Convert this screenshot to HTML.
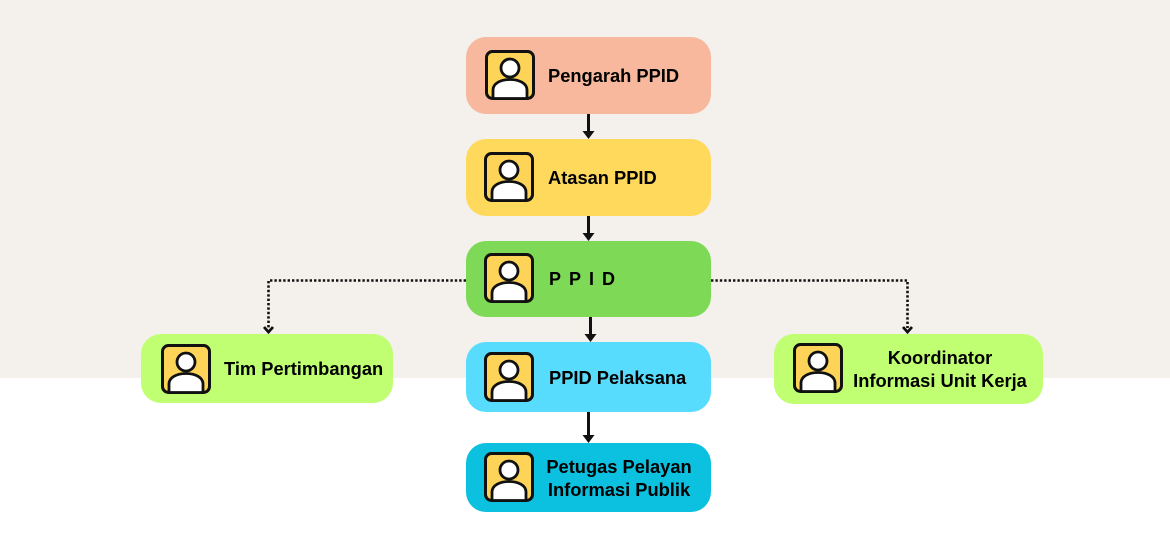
<!DOCTYPE html>
<html><head><meta charset="utf-8"><style>
html,body{margin:0;padding:0}
body{width:1170px;height:550px;position:relative;overflow:hidden;background:#fff;font-family:"Liberation Sans",sans-serif}
.bg{position:absolute;left:0;top:0;width:1170px;height:378px;background:#F4F1EC}
.box{position:absolute;border-radius:20px}
.t{position:absolute;font-weight:bold;font-size:18px;color:#000;white-space:nowrap;line-height:23px}
.c{text-align:center}
svg.lines{position:absolute;left:0;top:0}
</style></head><body>
<div class="bg"></div>

<div class="box" style="left:466px;top:37px;width:245px;height:77px;background:#F7B89D"></div>
<div class="box" style="left:466px;top:139px;width:245px;height:77px;background:#FED95C"></div>
<div class="box" style="left:466px;top:241px;width:245px;height:76px;background:#7ED957"></div>
<div class="box" style="left:466px;top:342px;width:245px;height:70px;background:#58DCFE"></div>
<div class="box" style="left:466px;top:443px;width:245px;height:69px;background:#0CC0DF"></div>
<div class="box" style="left:141px;top:334px;width:252px;height:69px;background:#C1FF72"></div>
<div class="box" style="left:774px;top:334px;width:269px;height:70px;background:#C1FF72"></div>

<svg class="lines" width="1170" height="550" viewBox="0 0 1170 550">
  <defs>
    <g id="person">
      <rect x="1.5" y="1.5" width="47" height="47" rx="6" fill="#FDD458" stroke="#111" stroke-width="3"/>
      <path d="M8,48.5 L8,40 C8,33.5 15.5,29.5 25,29.5 C34.5,29.5 42,33.5 42,40 L42,48.5 Z" fill="#fff" stroke="#111" stroke-width="2.8" stroke-linejoin="round"/>
      <circle cx="25" cy="18" r="9" fill="#fff" stroke="#111" stroke-width="2.8"/>
    </g>
  </defs>
  <use href="#person" x="485" y="50"/>
  <use href="#person" x="484" y="152"/>
  <use href="#person" x="484" y="253"/>
  <use href="#person" x="484" y="352"/>
  <use href="#person" x="484" y="452"/>
  <use href="#person" x="161" y="344"/>
  <use href="#person" x="793" y="343"/>

  <g stroke="#111" stroke-width="3" fill="none">
    <line x1="588.5" y1="114" x2="588.5" y2="132"/>
    <line x1="588.5" y1="216" x2="588.5" y2="234"/>
    <line x1="590.5" y1="317" x2="590.5" y2="335"/>
    <line x1="588.5" y1="412" x2="588.5" y2="436"/>
  </g>
  <g fill="#111">
    <polygon points="582.5,131 594.5,131 588.5,139"/>
    <polygon points="582.5,233 594.5,233 588.5,241"/>
    <polygon points="584.5,334 596.5,334 590.5,342"/>
    <polygon points="582.5,435 594.5,435 588.5,443"/>
  </g>
  <g stroke="#111" stroke-width="2.6" fill="none" stroke-dasharray="2.4 2">
    <polyline points="466,280.5 268.5,280.5 268.5,328"/>
    <polyline points="711,280.5 907.5,280.5 907.5,328"/>
  </g>
  <g stroke="#111" stroke-width="2.8" fill="none">
    <polyline points="264,327 268.5,332 273,327"/>
    <polyline points="903,327 907.5,332 912,327"/>
  </g>
</svg>

<div class="t" style="left:548px;top:64px;font-size:18.3px">Pengarah PPID</div>
<div class="t" style="left:548px;top:166px;font-size:18.3px">Atasan PPID</div>
<div class="t" style="left:549px;top:268px;letter-spacing:8px">PPID</div>
<div class="t" style="left:549px;top:366px;font-size:18.3px">PPID Pelaksana</div>
<div class="t c" style="left:519px;width:200px;top:455px;font-size:18.3px">Petugas Pelayan<br>Informasi Publik</div>
<div class="t" style="left:224px;top:357px;font-size:18.3px">Tim Pertimbangan</div>
<div class="t c" style="left:840px;width:200px;top:346px;font-size:18.3px">Koordinator<br>Informasi Unit Kerja</div>
</body></html>
